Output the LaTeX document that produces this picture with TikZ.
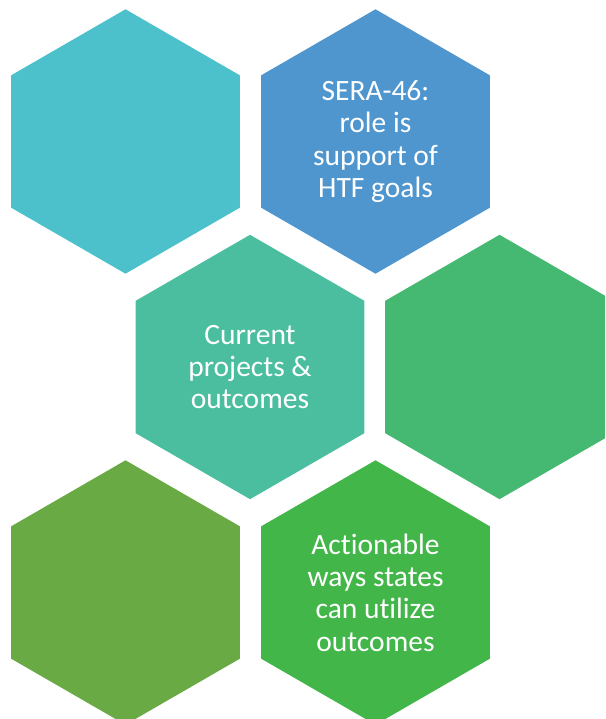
\documentclass[tikz,border=0pt]{standalone}
\usepackage{fontspec}
\setmainfont{Carlito}[Ligatures={NoCommon}]
\usetikzlibrary{shapes.geometric}
\definecolor{hcyan}{HTML}{4CC1CC}
\definecolor{hblue}{HTML}{4F96CF}
\definecolor{hteal}{HTML}{4CBEA0}
\definecolor{hgreen}{HTML}{45B872}
\definecolor{holive}{HTML}{6AAA45}
\definecolor{hlgreen}{HTML}{43B64A}
\begin{document}
\begin{tikzpicture}[x=1pt,y=-1pt,
  hex/.style={regular polygon, regular polygon sides=6, shape border rotate=30,
    minimum size=264.4pt, inner sep=0pt, outer sep=0pt, draw=none},
  hextext/.style={text=white, align=center, inner sep=0pt,
    font=\fontsize{29.5}{32.4}\selectfont}]
\useasboundingbox (0,0) rectangle (605,719);
\clip (0,0) rectangle (605,719);
\node[hex, fill=hcyan]   (h1) at (125.5,141.5) {};
\node[hex, fill=hblue]   (h2) at (375.5,141.5) {};
\node[hex, fill=hteal]   (h3) at (250,367) {};
\node[hex, fill=hgreen]  (h4) at (499.5,367) {};
\node[hex, fill=holive]  (h5) at (125.5,592.5) {};
\node[hex, fill=hlgreen] (h6) at (375.5,592.5) {};
\node[hextext] (t2) at (h2) {SERA-46:\\role is\\support of\\HTF goals};
\node[hextext] (t3) at (h3) {Current\\projects \&\\outcomes};
\node[hextext] (t6) at (h6) {Actionable\\ways states\\can utilize\\outcomes};
\end{tikzpicture}
\end{document}
